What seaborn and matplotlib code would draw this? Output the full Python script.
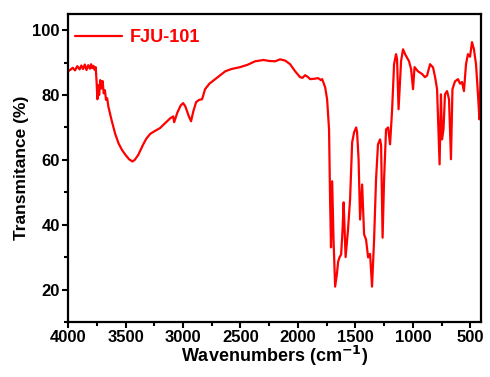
import matplotlib
matplotlib.use("Agg")
import matplotlib.pyplot as plt
import seaborn as sns
import pandas as pd
from matplotlib.ticker import MultipleLocator

wavenumber = [4000, 3980, 3960, 3940, 3920, 3900, 3885, 3870, 3855, 3840, 3825, 3810, 3800, 3790,
              3780, 3770, 3760, 3752, 3745, 3738, 3730, 3720, 3710, 3700, 3690, 3680, 3670, 3660,
              3650, 3620, 3590, 3560, 3530, 3500, 3470, 3440, 3420, 3390, 3350, 3320, 3286, 3250,
              3200, 3150, 3112, 3086, 3077, 3050, 3020, 2999, 2980, 2950, 2930, 2910, 2886, 2860,
              2834, 2808, 2770, 2720, 2680, 2633, 2580, 2503, 2440, 2372, 2300, 2250, 2198, 2155,
              2110, 2068, 2024, 1981, 1960, 1937, 1915, 1894, 1860, 1824, 1800, 1789, 1763, 1746,
              1729, 1720, 1712, 1702, 1690, 1676, 1660, 1650, 1637, 1624, 1612, 1602, 1585, 1565,
              1546, 1528, 1511, 1493, 1485, 1472, 1459, 1441, 1424, 1407, 1389, 1372, 1355, 1337,
              1320, 1303, 1285, 1276, 1263, 1250, 1233, 1215, 1198, 1180, 1163, 1146, 1137, 1124,
              1110, 1102, 1085, 1067, 1050, 1033, 1015, 998, 985, 955, 920, 894, 876, 850,
              824, 806, 789, 780, 767, 755, 746, 733, 720, 702, 685, 668, 655, 633,
              607, 589, 572, 555, 537, 520, 502, 485, 468, 450, 433, 420, 407]
transmittance = [87.3, 87.8, 88.4, 87.6, 88.9, 87.9, 89.1, 88.0, 89.4, 87.7, 89.2, 88.1, 89.5, 88.3,
                 89.0, 87.8, 88.6, 84.0, 78.7, 83.0, 80.0, 84.6, 82.0, 84.3, 80.5, 81.5, 78.5, 79.0,
                 76.5, 72.0, 68.0, 65.0, 63.0, 61.5, 60.2, 59.5, 60.0, 61.5, 64.5, 66.5, 68.0, 68.8,
                 69.8, 71.5, 72.8, 73.4, 71.6, 74.5, 76.8, 77.5, 76.5, 73.5, 71.9, 75.0, 77.8, 78.5,
                 78.7, 81.8, 83.5, 84.9, 86.0, 87.3, 88.0, 88.6, 89.3, 90.4, 90.8, 90.5, 90.4, 91.0,
                 90.6, 89.5, 87.3, 85.5, 85.3, 86.1, 85.6, 84.9, 85.0, 85.2, 84.6, 84.9, 82.4, 78.7,
                 69.4, 47.8, 33.0, 53.4, 35.4, 20.9, 25.0, 28.6, 30.0, 30.8, 38.0, 46.9, 30.0, 38.0,
                 47.8, 65.4, 68.5, 70.0, 68.5, 60.2, 41.6, 52.4, 37.0, 35.4, 29.9, 31.0, 20.9, 35.4,
                 54.0, 64.8, 66.3, 64.5, 36.0, 54.0, 69.4, 70.0, 64.8, 75.6, 89.5, 92.6, 91.0, 75.6,
                 85.0, 90.5, 94.1, 92.6, 91.5, 90.4, 88.0, 81.8, 88.6, 87.3, 86.5, 85.5, 86.0, 89.5,
                 88.5, 85.5, 81.8, 72.0, 58.6, 80.2, 66.3, 69.4, 80.2, 81.2, 78.7, 60.2, 81.8, 84.2,
                 84.9, 83.5, 84.0, 81.2, 89.5, 92.6, 91.8, 96.3, 94.1, 89.5, 80.2, 72.5, 90.4]
series_label = "FJU-101"

df = pd.DataFrame({"wn": wavenumber, "T": transmittance})

sns.set_style("ticks")
plt.rcParams["font.family"] = ["Liberation Sans", "DejaVu Sans"]
plt.rcParams["font.weight"] = "bold"
plt.rcParams["text.color"] = "black"
plt.rcParams["axes.labelcolor"] = "black"
plt.rcParams["xtick.color"] = "black"
plt.rcParams["ytick.color"] = "black"

fig = plt.figure(figsize=(4.9, 3.77), dpi=100)
ax = fig.add_axes([0.139, 0.146, 0.843, 0.817])

sns.lineplot(data=df, x="wn", y="T", color="#ff0000", linewidth=1.6, label=series_label,
             sort=False, ax=ax)

ax.set_xlim(4000, 405)
ax.set_ylim(10, 105)
ax.xaxis.set_major_locator(MultipleLocator(500))
ax.xaxis.set_minor_locator(MultipleLocator(250))
ax.yaxis.set_major_locator(MultipleLocator(20))
ax.yaxis.set_minor_locator(MultipleLocator(10))

for s in ax.spines.values():
    s.set_linewidth(1.6)
    s.set_color("black")

ax.tick_params(which="major", direction="out", length=4.5, width=1.5, labelsize=12,
               top=False, right=False, pad=1.5, colors="black")
ax.tick_params(which="minor", direction="out", length=3, width=1.5, top=False, right=False,
               colors="black")
for lab in ax.get_xticklabels() + ax.get_yticklabels():
    lab.set_fontweight("bold")

ax.set_xlabel("Wavenumbers (cm$^{\\mathbf{-1}}$)", fontsize=13, fontweight="bold", labelpad=-1)
ax.set_ylabel("Transmitance (%)", fontsize=12.5, fontweight="bold", labelpad=2)

leg = ax.legend(loc="upper left", bbox_to_anchor=(0.0, 0.975), frameon=False,
                prop={"weight": "bold", "size": 13},
                handlelength=2.6, borderaxespad=0.1, handletextpad=0.4, borderpad=0.3)
for t in leg.get_texts():
    t.set_color("#ff0000")

fig.savefig("out.png", dpi=100)
